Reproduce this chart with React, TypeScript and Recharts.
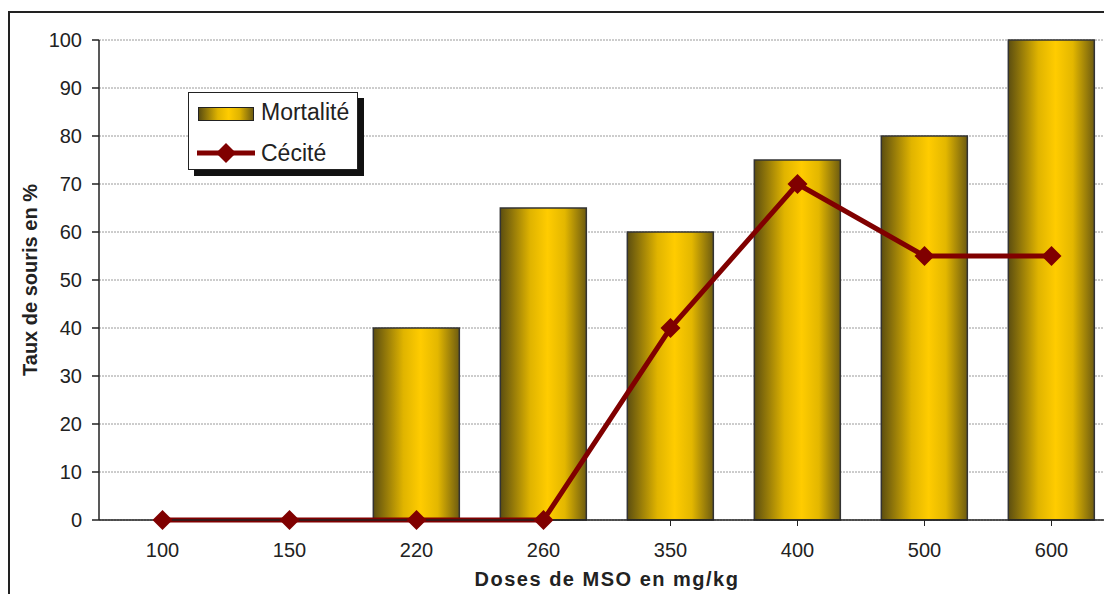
import React from "react";
import { Bar, CartesianGrid, ComposedChart, Label, Line, XAxis, YAxis } from "recharts";

const doses = ["100", "150", "220", "260", "350", "400", "500", "600"];
const mortalite = [0, 0, 40, 65, 60, 75, 80, 100];
const cecite = [0, 0, 0, 0, 40, 70, 55, 55];
const yTicks = [0, 10, 20, 30, 40, 50, 60, 70, 80, 90, 100];

const data = doses.map((dose, i) => ({ dose, mortalite: mortalite[i], cecite: cecite[i] }));

const FONT = "'Liberation Sans', Arial, sans-serif";
const RED = "#800000";

function Diamond(props: any) {
  const { cx, cy } = props;
  if (cx == null || cy == null) return null;
  const r = 10;
  return <polygon points={`${cx},${cy - r} ${cx + r},${cy} ${cx},${cy + r} ${cx - r},${cy}`} fill={RED} />;
}

function LegendBox() {
  return (
    <div style={{ position: "absolute", left: 188, top: 92, width: 176, height: 84 }}>
      <div style={{ position: "absolute", left: 6, top: 6, width: 170, height: 78, background: "#111" }} />
      <div
        style={{
          position: "absolute",
          left: 0,
          top: 0,
          width: 168,
          height: 76,
          background: "#fff",
          border: "1px solid #222",
          fontFamily: FONT,
          fontSize: 23,
          color: "#222",
        }}
      >
        <div style={{ position: "absolute", left: 9, top: 14, width: 54, height: 12, border: "1px solid #222", background: "linear-gradient(to right, #5c4e10, #e0b400 35%, #ffcc00 55%, #e0b400 75%, #6e5c10)" }} />
        <div style={{ position: "absolute", left: 72, top: 6, lineHeight: "26px" }}>Mortalité</div>
        <svg style={{ position: "absolute", left: 8, top: 48 }} width={58} height={24}>
          <line x1={0} y1={12} x2={58} y2={12} stroke={RED} strokeWidth={5} />
          <polygon points="29,2 39,12 29,22 19,12" fill={RED} />
        </svg>
        <div style={{ position: "absolute", left: 72, top: 47, lineHeight: "26px" }}>Cécité</div>
      </div>
    </div>
  );
}

export default function App() {
  return (
    <div style={{ position: "fixed", left: 0, top: 0, width: 1104, height: 594, overflow: "hidden", background: "#fff" }}>
      <div style={{ position: "absolute", left: 8, top: 11, width: 1200, height: 700, border: "2px solid #222" }} />
      <div style={{ position: "absolute", left: 0, top: 0 }}>
        <ComposedChart
          width={1115}
          height={594}
          data={data}
          margin={{ top: 40, right: 0, left: 0, bottom: 0 }}
          barCategoryGap="16%"
          style={{ fontFamily: FONT }}
        >
          <defs>
            <linearGradient id="gold" x1="0" y1="0" x2="1" y2="0">
              <stop offset="0%" stopColor="#5c4e10" />
              <stop offset="35%" stopColor="#e0b400" />
              <stop offset="55%" stopColor="#ffcc00" />
              <stop offset="75%" stopColor="#e3b700" />
              <stop offset="100%" stopColor="#6e5c10" />
            </linearGradient>
          </defs>
          <CartesianGrid vertical={false} stroke="#9a9a9a" strokeDasharray="2 1" />
          <XAxis
            dataKey="dose"
            height={74}
            tickSize={6}
            tickMargin={17}
            tick={{ fill: "#222", fontSize: 20 }}
            axisLine={{ stroke: "#222", strokeWidth: 1.5 }}
            tickLine={{ stroke: "#222" }}
            interval={0}
          >
            <Label
              value="Doses de MSO en mg/kg"
              position="insideBottom"
              offset={8}
              style={{ fill: "#222", fontSize: 20, fontWeight: "bold", fontFamily: FONT, letterSpacing: 1.5 }}
            />
          </XAxis>
          <YAxis
            width={99}
            domain={[0, 100]}
            ticks={yTicks}
            tickSize={7}
            tickMargin={10}
            tick={{ fill: "#222", fontSize: 20 }}
            axisLine={{ stroke: "#222", strokeWidth: 1.5 }}
            tickLine={{ stroke: "#222", strokeWidth: 1.5 }}
          >
            <Label
              content={({ viewBox }: any) => {
                const cy = viewBox.y + viewBox.height / 2;
                return (
                  <text
                    x={30}
                    y={cy}
                    transform={`rotate(-90 30 ${cy})`}
                    textAnchor="middle"
                    dominantBaseline="central"
                    style={{ fill: "#222", fontSize: 20, fontWeight: "bold", fontFamily: FONT }}
                  >
                    Taux de souris en %
                  </text>
                );
              }}
            />
          </YAxis>
          <Bar dataKey="mortalite" name="Mortalité" fill="url(#gold)" stroke="#333" strokeWidth={1.5} isAnimationActive={false} />
          <Line
            dataKey="cecite"
            name="Cécité"
            stroke={RED}
            strokeWidth={5}
            dot={<Diamond />}
            activeDot={false}
            type="linear"
            isAnimationActive={false}
          />
        </ComposedChart>
      </div>
      <LegendBox />
    </div>
  );
}
